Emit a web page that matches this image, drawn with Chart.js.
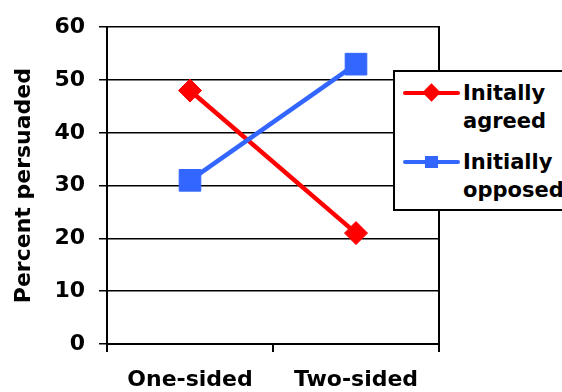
<!DOCTYPE html>
<html>
<head>
<meta charset="utf-8">
<script src="https://cdn.jsdelivr.net/npm/chart.js@4"></script>
<style>
  html, body { margin: 0; padding: 0; background: #fff; overflow: hidden; width: 562px; height: 392px; }
  #wrap { position: relative; width: 562px; height: 392px; overflow: hidden; }
  canvas { position: absolute; left: 0; top: 0; }
  #legend {
    position: absolute; left: 393px; top: 70px; width: 190px; height: 137px;
    border: 2px solid #000; background: #fff;
    font-family: "DejaVu Sans", Verdana, sans-serif; font-weight: bold; font-size: 21px;
    line-height: 28px; color: #000;
  }
  .entry { position: absolute; left: 0; }
  .sample { position: absolute; left: 8px; width: 57px; height: 4px; border-radius: 2px; }
  .txt { position: absolute; left: 68px; white-space: nowrap; }
  .mk { position: absolute; }
</style>
</head>
<body>
<div id="wrap">
  <canvas id="c" width="562" height="392"></canvas>
  <div id="legend"></div>
</div>
<script>
const categories = ["One-sided", "Two-sided"];
const agreedValues = [48, 21];
const opposedValues = [31, 53];
const seriesNames = [["Initally", "agreed"], ["Initially", "opposed"]];
const yTicks = [0, 10, 20, 30, 40, 50, 60];

const RED = "#FF0000";
const BLUE = "#3366FF";
const FONT = "'DejaVu Sans', Verdana, sans-serif";

const chart = new Chart(document.getElementById("c"), {
  type: "line",
  data: {
    labels: categories,
    datasets: [
      {
        label: seriesNames[0].join(" "),
        data: agreedValues,
        borderColor: RED, backgroundColor: RED,
        borderWidth: 4.5, pointStyle: "rectRot", pointRadius: 11.5,
        pointBorderWidth: 1, pointBorderColor: RED, pointBackgroundColor: RED,
        order: 1
      },
      {
        label: seriesNames[1].join(" "),
        data: opposedValues,
        borderColor: BLUE, backgroundColor: BLUE,
        borderWidth: 4.5, pointStyle: "rect", pointRadius: 15.3,
        pointBorderWidth: 1, pointBorderColor: BLUE, pointBackgroundColor: BLUE,
        order: 0
      }
    ]
  },
  options: {
    responsive: false,
    animation: false,
    layout: { padding: { top: 25, left: 0, right: 0, bottom: 0 } },
    plugins: { legend: { display: false }, tooltip: { enabled: false } },
    scales: {
      x: {
        type: "category",
        offset: true,
        grid: { offset: true, drawOnChartArea: false, drawTicks: true, tickLength: 8, color: "#000", lineWidth: 2 },
        border: { display: true, color: "#000", width: 2 },
        ticks: { color: "#000", font: { family: FONT, size: 22, weight: "bold" }, padding: 15, maxRotation: 0 },
        afterFit: s => { s.height = 48; }
      },
      y: {
        position: "left",
        min: 0, max: 60,
        afterBuildTicks: s => { s.ticks = yTicks.map(v => ({ value: v })); },
        grid: { color: "#000", lineWidth: 1.5, tickLength: 8, drawTicks: true },
        border: { display: true, color: "#000", width: 2 },
        ticks: { color: "#000", font: { family: FONT, size: 22, weight: "bold" }, padding: 14 },
        title: { display: true, text: "Percent persuaded", color: "#000", font: { family: FONT, size: 22, weight: "bold" }, padding: { top: 11, bottom: 0 } },
        afterFit: s => { s.width = 107; }
      },
      y2: {
        position: "right",
        display: true,
        min: 0, max: 60,
        grid: { drawOnChartArea: false, drawTicks: false },
        border: { display: true, color: "#000", width: 2 },
        ticks: { display: false },
        afterFit: s => { s.width = 123; }
      }
    }
  }
});

// HTML legend built from the series names
const legend = document.getElementById("legend");
const colors = [RED, BLUE];
const tops = [7, 76];
seriesNames.forEach((lines, i) => {
  const e = document.createElement("div");
  e.className = "entry";
  e.style.top = tops[i] + "px";
  const sample = document.createElement("div");
  sample.className = "sample";
  sample.style.background = colors[i];
  sample.style.top = "12px";
  e.appendChild(sample);
  const mk = document.createElement("div");
  mk.className = "mk";
  mk.style.background = colors[i];
  if (i === 0) {
    mk.style.width = "13px"; mk.style.height = "13px";
    mk.style.left = "30px"; mk.style.top = "7px";
    mk.style.transform = "rotate(45deg)";
  } else {
    mk.style.width = "13px"; mk.style.height = "12px";
    mk.style.left = "30px"; mk.style.top = "8px";
  }
  e.appendChild(mk);
  const t = document.createElement("div");
  t.className = "txt";
  t.style.top = "0px";
  t.innerHTML = lines.join("<br>");
  e.appendChild(t);
  legend.appendChild(e);
});
</script>
</body>
</html>
